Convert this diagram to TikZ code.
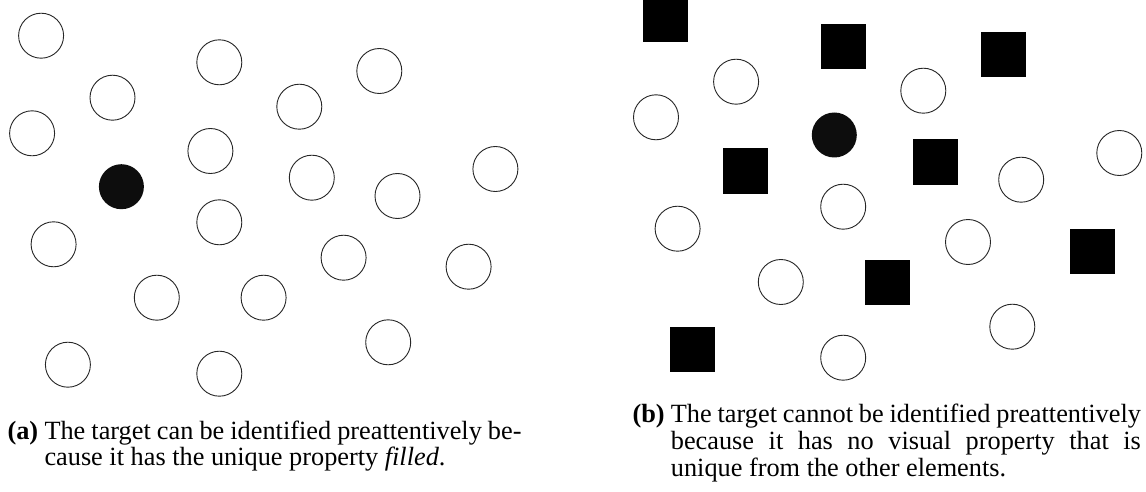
\documentclass[tikz,border=0pt]{standalone}
\usepackage{fontspec}
\setmainfont{Liberation Serif}
\begin{document}
\begin{tikzpicture}[x=1pt,y=-1pt,
  ring/.style={circle,draw=black!85,line width=0.9pt,minimum size=45pt,inner sep=0pt},
  target/.style={circle,fill=black!95,minimum size=45pt,inner sep=0pt},
  blocksq/.style={rectangle,fill=black,minimum size=45pt,inner sep=0pt},
  captxt/.style={anchor=base west,inner sep=0pt,font=\fontsize{26.3}{26}\selectfont}]
\useasboundingbox[fill=white] (0,0) rectangle (1146,492);
% ---- panel (a)
\node[ring] (a1) at (41.1,35.7) {};
\node[ring] (a2) at (219.3,62.3) {};
\node[ring] (a3) at (379.3,71) {};
\node[ring] (a4) at (112.5,97.7) {};
\node[ring] (a5) at (299.3,106.7) {};
\node[ring] (a6) at (32.1,133.3) {};
\node[ring] (a7) at (210.4,151) {};
\node[ring] (a8) at (311.8,177.7) {};
\node[ring] (a9) at (495.4,169) {};
\node[ring] (a10) at (397.5,196) {};
\node[target] (atarget) at (121.4,186.7) {};
\node[ring] (a12) at (219.3,222.3) {};
\node[ring] (a13) at (53.6,244.3) {};
\node[ring] (a14) at (343.6,257.7) {};
\node[ring] (a15) at (468.6,266.7) {};
\node[ring] (a16) at (156.8,297.7) {};
\node[ring] (a17) at (263.6,297.7) {};
\node[ring] (a18) at (388.2,342.3) {};
\node[ring] (a19) at (67.9,364.7) {};
\node[ring] (a20) at (219.3,373.7) {};
% ---- panel (b)
\node[blocksq] (s1) at (665,19.8) {};
\node[blocksq] (s2) at (843.2,46.3) {};
\node[blocksq] (s3) at (1003.5,55) {};
\node[blocksq] (s4) at (745.1,171) {};
\node[blocksq] (s5) at (935.9,162) {};
\node[blocksq] (s6) at (1092.7,251.2) {};
\node[blocksq] (s7) at (887.9,282.2) {};
\node[blocksq] (s8) at (692,349) {};
\node[ring] (b1) at (736.1,81.7) {};
\node[ring] (b2) at (656,117.3) {};
\node[ring] (b3) at (923.3,90.7) {};
\node[target] (btarget) at (834.3,135) {};
\node[ring] (b4) at (1021.2,179.7) {};
\node[ring] (b5) at (1119.3,153) {};
\node[ring] (b6) at (843.2,206.7) {};
\node[ring] (b7) at (677.6,228.7) {};
\node[ring] (b8) at (968,242) {};
\node[ring] (b9) at (780.8,282) {};
\node[ring] (b10) at (1012.3,326.7) {};
\node[ring] (b11) at (843.2,357.7) {};
% ---- captions
\node[captxt] (alabel) at (7.3,439.3) {\textbf{(a)}};
\node[captxt] (aline1) at (44.3,439.3) {\makebox[477pt][s]{The target can be identified preattentively be-}};
\node[captxt] (aline2) at (44.3,465) {cause it has the unique property \textit{filled}.};
\node[captxt] (blabel) at (632.3,422.7) {\textbf{(b)}};
\node[captxt] (bline1) at (670.7,422.7) {\makebox[470pt][s]{The target cannot be identified preattentively}};
\node[captxt] (bline2) at (670.7,449.5) {\makebox[470pt][s]{because it has no visual property that is}};
\node[captxt] (bline3) at (670.7,476) {unique from the other elements.};
\end{tikzpicture}
\end{document}
